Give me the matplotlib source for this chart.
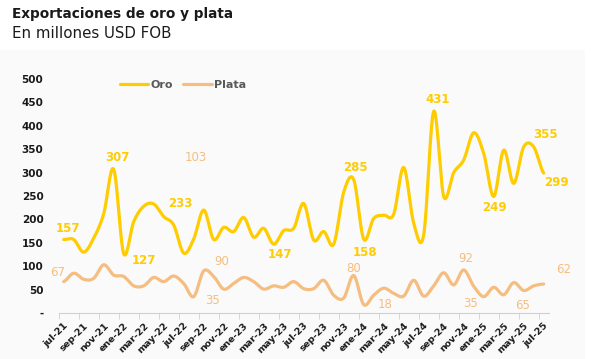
import numpy as np
import matplotlib.pyplot as plt
from matplotlib.patches import Rectangle

plt.rcParams["font.family"] = ["DejaVu Sans"]

GOLD = "#FFCC00"
SILVER = "#F5BD80"
TEXT_DARK = "#1a1a1a"

months = ["ene", "feb", "mar", "abr", "may", "jun",
          "jul", "ago", "sep", "oct", "nov", "dic"]
periods = [f"{months[(6 + i) % 12]}-{21 + (6 + i) // 12}" for i in range(49)]

oro = [157, 157, 130, 160, 212, 307, 127, 195, 228, 233, 206, 188, 128,
       158, 220, 157, 183, 174, 204, 162, 181, 147, 176, 181, 234, 156,
       174, 147, 258, 285, 158, 202, 209, 211, 311, 192, 167, 431, 249,
       300, 327, 385, 341, 249, 348, 277, 355, 355, 299]

plata = [67, 85, 72, 74, 103, 81, 78, 58, 58, 76, 67, 79, 63, 35, 90,
         78, 51, 63, 76, 67, 51, 58, 55, 67, 52, 52, 70, 38, 32, 80, 18,
         38, 53, 42, 36, 70, 36, 58, 86, 60, 92, 57, 35, 55, 39, 65, 48,
         58, 62]

# (index, offset in pixels) for the value labels
oro_labels = [(0, (4, 11)), (5, (4, 12)), (6, (20, -7)), (9, (27, 0)),
              (21, (6, -10)), (29, (2, 12)), (30, (1, -13)), (37, (4, 12)),
              (43, (1, -11)), (47, (12, 12)), (48, (13, -9))]
plata_labels = [(0, (-6, 9)), (4, (92, 107)), (14, (18, 9)), (13, (19, -4)),
                (29, (0, 7)), (30, (21, 0)), (40, (2, 11)), (42, (-13, -7)),
                (45, (9, -23)), (48, (20, 14))]


def smooth(values, steps=20):
    # Catmull-Rom curve through every point, like a smoothed office chart
    p = np.asarray(values, dtype=float)
    p = np.concatenate([[p[0]], p, [p[-1]]])
    xs, ys = [], []
    t = np.linspace(0, 1, steps, endpoint=False)
    for i in range(1, len(p) - 2):
        p0, p1, p2, p3 = p[i - 1], p[i], p[i + 1], p[i + 2]
        y = 0.5 * ((2 * p1) + (-p0 + p2) * t
                   + (2 * p0 - 5 * p1 + 4 * p2 - p3) * t ** 2
                   + (-p0 + 3 * p1 - 3 * p2 + p3) * t ** 3)
        xs.append(i - 1 + t)
        ys.append(y)
    xs.append([len(values) - 1])
    ys.append([values[-1]])
    return np.concatenate(xs), np.concatenate(ys)


fig = plt.figure(figsize=(5.96, 3.59), dpi=100)
fig.patches.append(Rectangle((0, 0), 585 / 596, 1 - 50 / 359,
                             transform=fig.transFigure,
                             facecolor="#fafafa", edgecolor="none", zorder=-1))

ax = fig.add_axes([58.7 / 596, 46 / 359, 490 / 596, 234 / 359])
ax.set_facecolor("none")

x = np.arange(len(oro))
sx, sy = smooth(oro)
ax.plot(sx, sy, color=GOLD, lw=2.3, solid_capstyle="round", label="Oro")
sx, sy = smooth(plata)
ax.plot(sx, sy, color=SILVER, lw=2.3, solid_capstyle="round", label="Plata")

for idx, off in oro_labels:
    ax.annotate(str(oro[idx]), (x[idx], oro[idx]), xytext=off,
                textcoords="offset pixels", ha="center", va="center",
                color=GOLD, fontsize=8.5, fontweight="bold",
                annotation_clip=False)
for idx, off in plata_labels:
    ax.annotate(str(plata[idx]), (x[idx], plata[idx]), xytext=off,
                textcoords="offset pixels", ha="center", va="center",
                color=SILVER, fontsize=8.5, annotation_clip=False)

ax.set_xlim(-0.5, len(oro) - 0.5)
ax.set_ylim(0, 500)

yticks = list(range(0, 501, 50))
ax.set_yticks(yticks)
ax.set_yticklabels(["-" if v == 0 else str(v) for v in yticks],
                   fontsize=7.5, fontweight="bold", color=TEXT_DARK)
ax.tick_params(axis="y", length=0, pad=11)

ax.set_xticks(x[::2])
ax.set_xticklabels(periods[::2], rotation=45, ha="right",
                   rotation_mode="anchor", fontsize=6.8, fontweight="bold",
                   color=TEXT_DARK)
ax.set_xticks(np.arange(-0.5, len(oro), 2), minor=True)
ax.tick_params(axis="x", which="major", length=0, pad=6)
ax.tick_params(axis="x", which="minor", length=4, color="#d0d0d0")

for side in ["left", "right", "top"]:
    ax.spines[side].set_visible(False)
ax.spines["bottom"].set_color("#d0d0d0")

leg = ax.legend(loc="center", bbox_to_anchor=(183 / 596, 1 - 85 / 359),
                bbox_transform=fig.transFigure, ncol=2, frameon=False,
                handlelength=2.6, handletextpad=0.2, columnspacing=0.9,
                prop={"size": 8, "weight": "bold"})
for txt in leg.get_texts():
    txt.set_color("#595959")

fig.text(12 / 596, 1 - 14 / 359, "Exportaciones de oro y plata",
         fontsize=9.8, fontweight="bold", color=TEXT_DARK, va="center")
fig.text(12 / 596, 1 - 33 / 359, "En millones USD FOB",
         fontsize=10.8, color=TEXT_DARK, va="center")

fig.savefig("out.png", dpi=100)
